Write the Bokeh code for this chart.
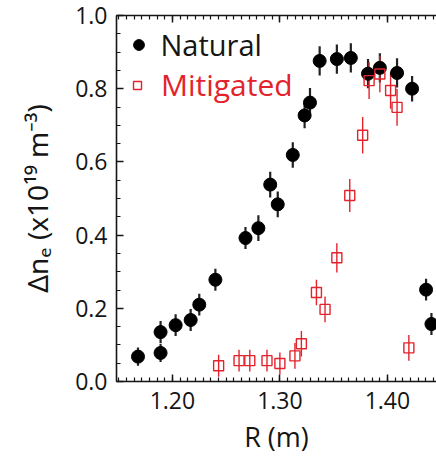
from bokeh.plotting import figure
from bokeh.models import (Range1d, LinearAxis, SingleIntervalTicker, NumeralTickFormatter,
                          Whisker, ColumnDataSource, Legend, LegendItem)
from bokeh.embed import file_html
from bokeh.resources import INLINE

# ---------------- data ----------------
nat_R = [1.168, 1.189, 1.189, 1.203, 1.217, 1.225, 1.240, 1.268, 1.280, 1.291, 1.298,
         1.312, 1.323, 1.328, 1.337, 1.353, 1.366, 1.382, 1.393, 1.409, 1.423, 1.436, 1.441]
nat_ne = [0.068, 0.078, 0.135, 0.154, 0.168, 0.210, 0.278, 0.392, 0.419, 0.538, 0.484,
          0.619, 0.727, 0.762, 0.876, 0.881, 0.884, 0.841, 0.857, 0.843, 0.800, 0.251, 0.157]
nat_err = [0.025, 0.025, 0.03, 0.03, 0.03, 0.03, 0.03, 0.03, 0.035, 0.035, 0.035,
           0.035, 0.035, 0.04, 0.04, 0.04, 0.04, 0.04, 0.04, 0.04, 0.035, 0.03, 0.03]

mit_R = [1.243, 1.262, 1.272, 1.288, 1.300, 1.314, 1.320, 1.334, 1.342, 1.353, 1.365,
         1.377, 1.383, 1.393, 1.403, 1.409, 1.420]
mit_ne = [0.043, 0.057, 0.057, 0.057, 0.049, 0.070, 0.103, 0.243, 0.197, 0.338, 0.508,
          0.673, 0.822, 0.840, 0.795, 0.749, 0.092]
mit_err = [0.03, 0.03, 0.03, 0.03, 0.03, 0.035, 0.035, 0.035, 0.035, 0.04, 0.045,
           0.05, 0.05, 0.05, 0.05, 0.05, 0.035]

x_range = (1.148, 1.4457)
y_range = (0.0, 1.0)
x_tick_step = 0.1
y_tick_step = 0.2

label_nat = "Natural"
label_mit = "Mitigated"
x_title = "R (m)"
y_title = "\u0394n\u2091 (x10\u00b9\u2079 m\u207b\u00b3)"

# ---------------- style ----------------
FONT = "Open Sans"
RED = "#e3232b"
INK = "#151515"

p = figure(width=436, height=460,
           x_range=Range1d(*x_range), y_range=Range1d(*y_range),
           x_axis_type=None, y_axis_type=None,
           output_backend="svg", toolbar_location=None,
           min_border_left=116, min_border_right=0, min_border_top=15, min_border_bottom=79,
           outline_line_color=None, background_fill_color="white", border_fill_color="white")

xt = SingleIntervalTicker(interval=x_tick_step, num_minor_ticks=14)
yt = SingleIntervalTicker(interval=y_tick_step, num_minor_ticks=4)


def style_axis(ax, show_labels=True):
    ax.axis_line_color = INK
    ax.axis_line_width = 1.6
    ax.major_tick_in = 7
    ax.major_tick_out = 0
    ax.minor_tick_in = 4
    ax.minor_tick_out = 0
    ax.major_tick_line_color = INK
    ax.minor_tick_line_color = INK
    ax.major_tick_line_width = 1.5
    ax.minor_tick_line_width = 1.2
    ax.major_label_text_font = FONT
    ax.major_label_text_color = INK
    ax.axis_label_text_font = FONT
    ax.axis_label_text_font_style = "normal"
    ax.axis_label_text_color = INK
    if not show_labels:
        ax.major_label_text_font_size = "0px"
        ax.major_label_text_color = None
        ax.major_label_standoff = 0


xb = LinearAxis(ticker=xt, formatter=NumeralTickFormatter(format="0.00"), axis_label=x_title)
style_axis(xb)
xb.major_label_text_font_size = "23px"
xb.major_label_standoff = 10
xb.axis_label_text_font_size = "27px"
xb.axis_label_standoff = 6
p.add_layout(xb, "below")

xa = LinearAxis(ticker=xt)
style_axis(xa, show_labels=False)
p.add_layout(xa, "above")

yl = LinearAxis(ticker=yt, formatter=NumeralTickFormatter(format="0.0"), axis_label=y_title)
style_axis(yl)
yl.major_label_text_font_size = "23px"
yl.major_label_standoff = 9
yl.axis_label_text_font = "Noto Sans"
yl.axis_label_text_font_size = "28px"
yl.axis_label_standoff = 16
p.add_layout(yl, "left")

# ---------------- data glyphs ----------------
src_n = ColumnDataSource(dict(R=nat_R, ne=nat_ne,
                              lo=[v - e for v, e in zip(nat_ne, nat_err)],
                              hi=[v + e for v, e in zip(nat_ne, nat_err)]))
src_m = ColumnDataSource(dict(R=mit_R, ne=mit_ne,
                              lo=[v - e for v, e in zip(mit_ne, mit_err)],
                              hi=[v + e for v, e in zip(mit_ne, mit_err)]))

p.add_layout(Whisker(source=src_n, base="R", lower="lo", upper="hi", dimension="height",
                     line_color="#222222", line_width=2.2, upper_head=None, lower_head=None))
p.add_layout(Whisker(source=src_m, base="R", lower="lo", upper="hi", dimension="height",
                     line_color=RED, line_width=1.4, upper_head=None, lower_head=None))

r_n = p.scatter("R", "ne", source=src_n, marker="circle", size=13,
                fill_color="black", line_color="black")
r_m = p.scatter("R", "ne", source=src_m, marker="square", size=10,
                fill_color=None, line_color=RED, line_width=1.4)

# ---------------- legends ----------------
leg_n = Legend(items=[LegendItem(label=label_nat, renderers=[r_n])],
               location=(8.5, 317), glyph_width=27, glyph_height=27, label_standoff=9,
               label_text_font=FONT, label_text_font_size="29px", label_text_color=INK,
               padding=0, margin=0, spacing=0, border_line_color=None,
               background_fill_alpha=0)
leg_m = Legend(items=[LegendItem(label=label_mit, renderers=[r_m])],
               location=(11, 276), glyph_width=20, glyph_height=20, label_standoff=14,
               label_text_font=FONT, label_text_font_size="30px", label_text_color=RED,
               padding=0, margin=0, spacing=0, border_line_color=None,
               background_fill_alpha=0)
p.add_layout(leg_n)
p.add_layout(leg_m)

open("out.html", "w").write(file_html(p, INLINE))
